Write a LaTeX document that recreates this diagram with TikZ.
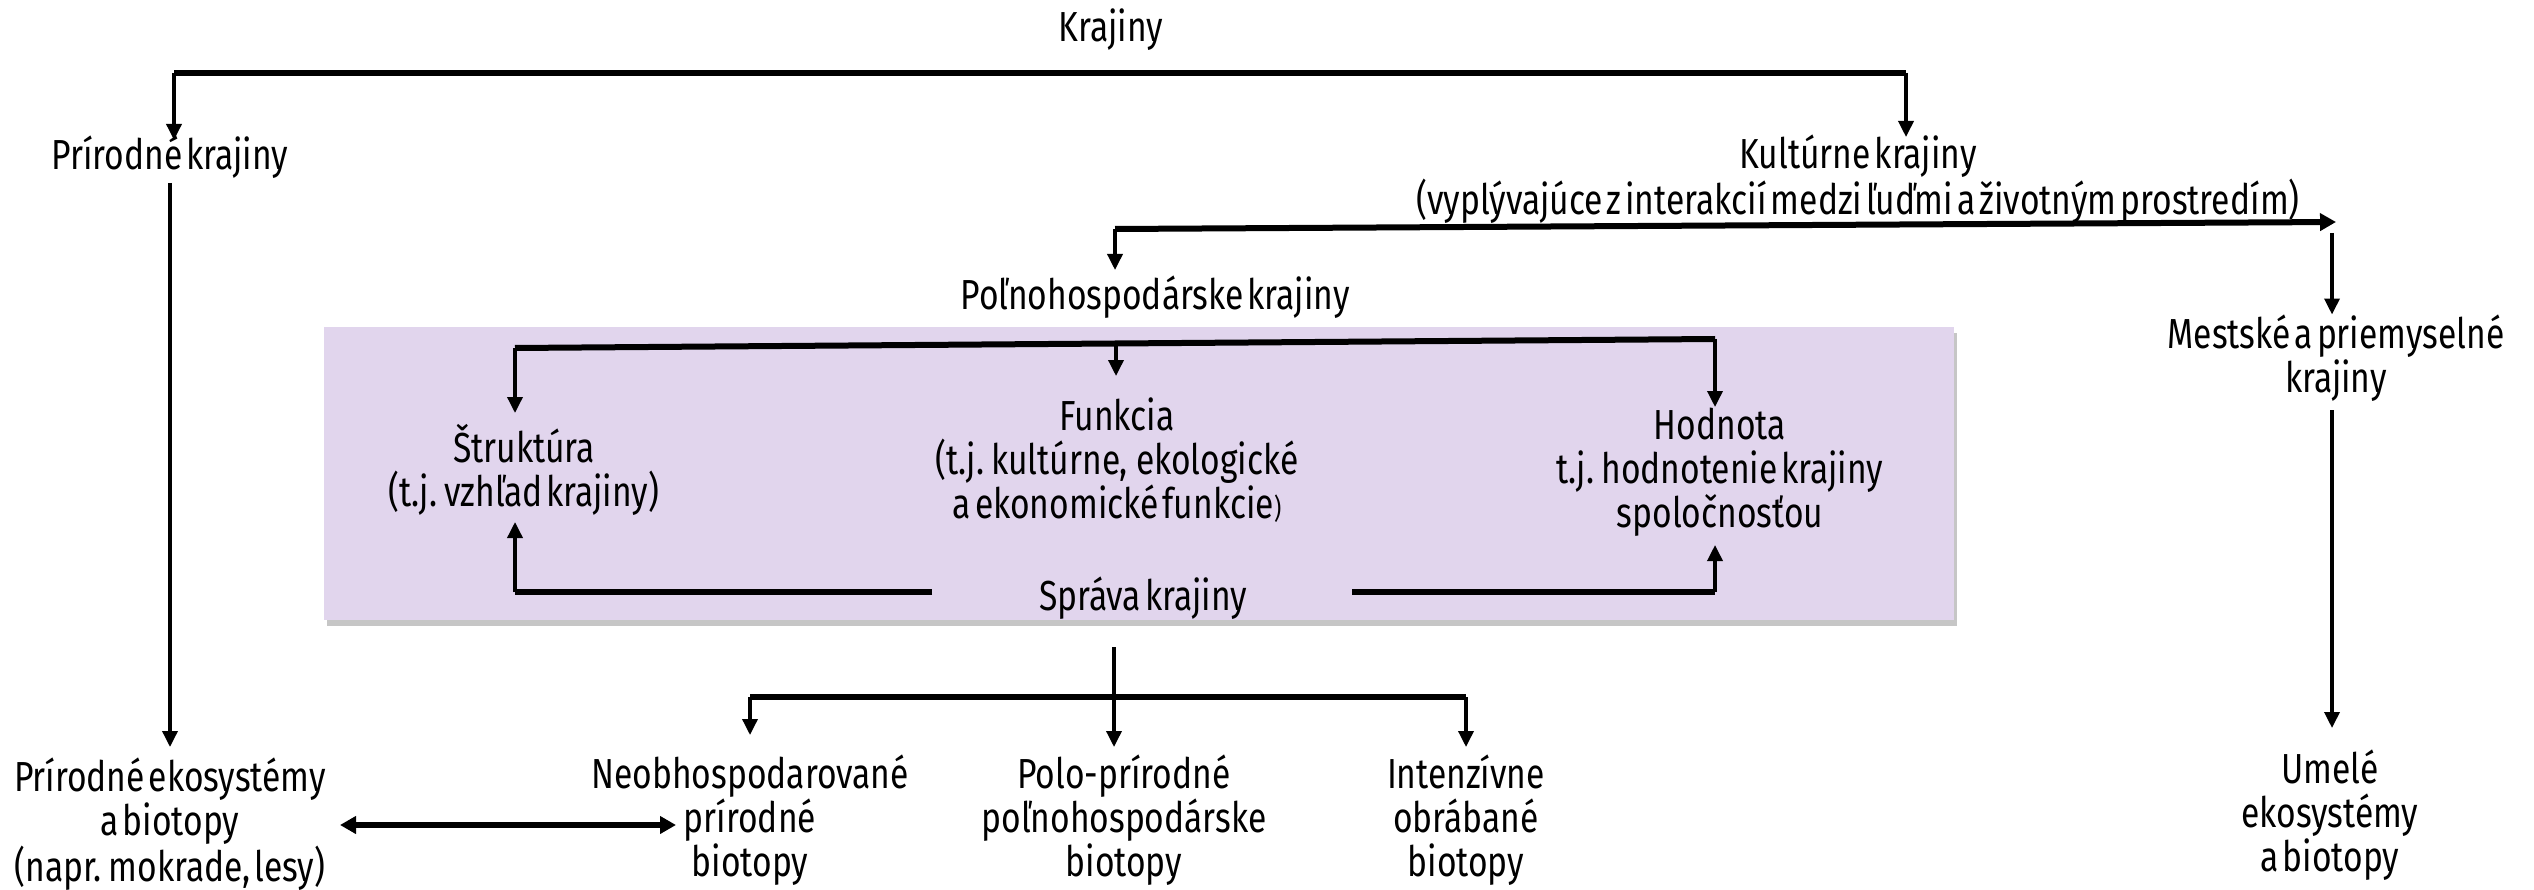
\documentclass[tikz,border=0pt]{standalone}
\usepackage{fontspec}
\setmainfont{Fira Sans}[FakeStretch=0.8,WordSpace=0.45]
\usetikzlibrary{arrows.meta,shadows}
\definecolor{boxlila}{HTML}{E1D5ED}

\begin{document}
\begin{tikzpicture}[x=1pt, y=-1pt, every node/.style={align=center, inner sep=0pt, font=\fontsize{42}{44}\selectfont}]
	\tikzset{arr/.style={line width=3.5pt, -{Triangle[length=16pt,width=15pt]}},
		bar/.style={line width=6pt}}
	\useasboundingbox (0,0) rectangle (2534,890);
	% lila box
	\fill[boxlila, drop shadow={shadow xshift=3pt, shadow yshift=-6pt, opacity=0.45}] (324,327) rectangle (1954,620);
	\node (kraj) at (1111,30)  {Krajiny};
	\node (prk)  at (170,157)  {Prírodné krajiny};
	\node (kuk)  at (1858,179) {Kultúrne krajiny\\(vyplývajúce z interakcií medzi ľuďmi a životným prostredím)};
	\node (pol)  at (1155,297) {Poľnohospodárske krajiny};
	\node (mes)  at (2336,358) {Mestské a priemyselné\\krajiny};
	\node (str)  at (524,470)  {Štruktúra\\(t.j. vzhľad krajiny)};
	\node (fun)  at (1117,460) {Funkcia\\(t.j. kultúrne, \ ekologické\\a ekonomické funkcie{\fontsize{28}{30}\selectfont)}};
	\node (hod)  at (1720,472) {Hodnota\\t.j. hodnotenie krajiny\\spoločnosťou};
	\node (spr)  at (1143,598) {Správa krajiny};
	\node (pre)  at (170,824)  {Prírodné ekosystémy\\a biotopy\\(napr. mokrade, lesy)};
	\node (neo)  at (750,820)  {Neobhospodarované\\prírodné\\biotopy};
	\node (polo) at (1124,820) {Polo-prírodné\\poľnohospodárske\\biotopy};
	\node (int)  at (1466,820) {Intenzívne\\obrábané\\biotopy};
	\node (ume)  at (2330,815) {Umelé\\ekosystémy\\a biotopy};
	% bars
	\coordinate (kL) at (174,73);
	\coordinate (kR) at (1906,73);
	\coordinate (pL) at (1115,229);
	\coordinate (pR) at (2336,222);
	\coordinate (bL) at (515,348);
	\coordinate (bM) at (1116,343.5);
	\coordinate (bR) at (1715,339);
	\coordinate (sW) at (932,592);
	\coordinate (sE) at (1352,592);
	\coordinate (sL) at (515,592);
	\coordinate (sR) at (1715,592);
	\coordinate (tL) at (750,697);
	\coordinate (tR) at (1466,697);
	\draw[bar] (kL) -- (kR);
	\draw[bar, -{Triangle[length=16pt,width=17pt]}] (pL) -- (pR);
	\draw[bar] (bL) -- (bR);
	\draw[bar] (sW) -- (sL);
	\draw[bar] (sE) -- (sR);
	\draw[bar] (tL) -- (tR);
	% arrows
	\draw[arr] (kL) -- (kL |- 0,140);
	\draw[arr] (kR) -- (kR |- 0,137);
	\draw[arr] (pL) -- (pL |- 0,270);
	\draw[arr] (2332,233) -- (mes.north -| 2332,0);
	\draw[arr] (170,183) -- (170,747);
	\draw[arr] (2332,410) -- (2332,728);
	\draw[arr] (bL) -- (bL |- 0,413);
	\draw[arr] (bM) -- (bM |- 0,376);
	\draw[arr] (bR) -- (bR |- 0,407);
	\draw[arr] (sL) -- (sL |- 0,522);
	\draw[arr] (sR) -- (sR |- 0,545);
	\draw[arr] (1114,647) -- (1114,747);
	\draw[arr] (tL) -- (tL |- 0,735);
	\draw[arr] (tR) -- (tR |- 0,747);
	\draw[bar, {Triangle[length=16pt,width=17pt]}-{Triangle[length=16pt,width=17pt]}] (340,825) -- (676,825);
\end{tikzpicture}
\end{document}
